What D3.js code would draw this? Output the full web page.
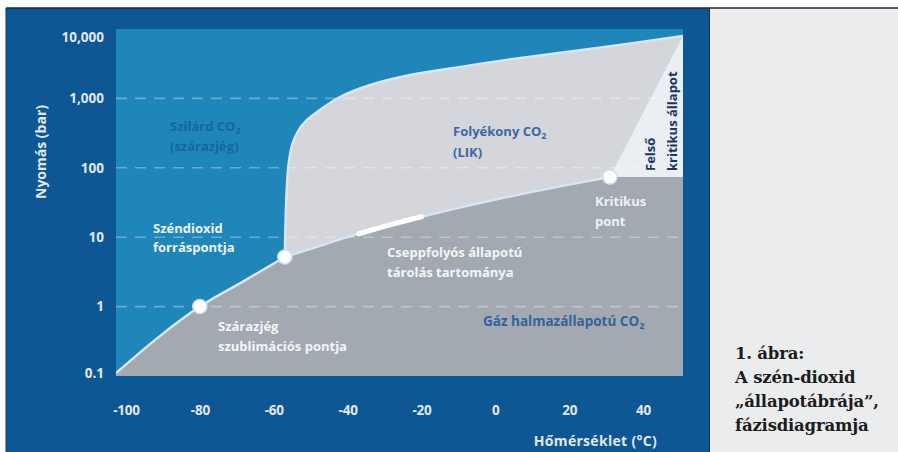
<!DOCTYPE html>
<html>
<head>
<meta charset="utf-8">
<script src="https://cdn.jsdelivr.net/npm/d3@7"></script>
<style>
  html, body { margin: 0; padding: 0; background: #ffffff; }
  svg { display: block; }
</style>
</head>
<body>
<svg id="chart" width="898" height="452"></svg>
<script>
// Axis ticks
const xTicks = [-100, -80, -60, -40, -20, 0, 20, 40];
const yTicks = [0.1, 1, 10, 100, 1000, 10000];
const yTickLabels = ["0.1", "1", "10", "100", "1,000", "10,000"];
const gridValues = [1, 10, 100, 1000];

// Phase boundaries of CO2: temperature (°C) and pressure (bar)
const sublimationT = [-102.7, -91, -80, -68, -57];
const sublimationP = [0.11, 0.37, 1.0, 2.35, 5.2];

const vaporT = [-57, -50, -40, -30, -20, -10, 0, 10, 20, 31];
const vaporP = [5.2, 6.8, 10.0, 14.3, 19.7, 26.5, 34.9, 45.0, 57.3, 73.8];

const meltT = [-57, -56.8, -56.5, -56.0, -55.05, -53.4, -51.0, -47.5, -42.1, -33.9, -23.1, -9.6, 4.8, 27.5, 50.8];
const meltP = [5.2, 17.7, 47.9, 110, 213, 339, 489, 681, 1047, 1560, 2173, 2833, 3700, 5321, 7925];

// Supercritical wedge: critical point, top of the melting curve, right edge at critical pressure
const superT = [31, 50.8, 50.8];
const superP = [73.8, 7925, 73.8];

// Liquid storage range along the boiling curve
const storageT = [-37, -30, -20];
const storageP = [11.2, 14.3, 19.7];

// Marked points: sublimation point, triple point, critical point
const pointT = [-80, -57, 31];
const pointP = [1.0, 5.2, 73.8];

const svg = d3.select("#chart");
const plot = { left: 116, right: 683, top: 29, bottom: 376 };

const x = d3.scaleLinear().domain([-102.7, 50.8]).range([plot.left, plot.right]);
const y = d3.scaleLog().domain([0.1, 10000]).range([plot.bottom, plot.top]);

const zip = (ts, ps) => ts.map((t, i) => [t, ps[i]]);
const sublimation = zip(sublimationT, sublimationP);
const vapor = zip(vaporT, vaporP);
const melt = zip(meltT, meltP);
const wedge = zip(superT, superP);
const storage = zip(storageT, storageP);
const points = zip(pointT, pointP);

const SANS = "'Open Sans', 'Liberation Sans', sans-serif";
const col = {
  navy: "#0c5794",
  solid: "#1f86ba",
  liquid: "#d4d6db",
  gas: "#a3a9b1",
  superc: "#eaeff4",
  curve: "#d3e7f4",
  axisText: "#e2e8f0"
};

// Panels and frame
svg.append("rect").attr("x", 6).attr("y", 8).attr("width", 703).attr("height", 444).attr("fill", col.navy);
svg.append("rect").attr("x", 709).attr("y", 8).attr("width", 189).attr("height", 444).attr("fill", "#ebecee");
svg.append("line").attr("x1", 6).attr("x2", 898).attr("y1", 8).attr("y2", 8).attr("stroke", "#1e2733").attr("stroke-width", 1.5);
svg.append("line").attr("x1", 6).attr("x2", 6).attr("y1", 8).attr("y2", 452).attr("stroke", "#2a3440").attr("stroke-width", 1);
svg.append("line").attr("x1", 709.5).attr("x2", 709.5).attr("y1", 8).attr("y2", 452).attr("stroke", "#1e2b3a").attr("stroke-width", 1);

// Plot area: solid phase fills the background
svg.append("defs").append("clipPath").attr("id", "plotClip")
  .append("rect").attr("x", plot.left).attr("y", plot.top)
  .attr("width", plot.right - plot.left).attr("height", plot.bottom - plot.top);

const g = svg.append("g").attr("clip-path", "url(#plotClip)");
g.append("rect").attr("x", plot.left).attr("y", plot.top)
  .attr("width", plot.right - plot.left).attr("height", plot.bottom - plot.top)
  .attr("fill", col.solid);

const areaBelow = (curve) => d3.area()
  .x(d => x(d[0])).y1(d => y(d[1])).y0(plot.bottom + 2)
  .curve(curve);
const lineWith = (curve) => d3.line()
  .x(d => x(d[0])).y(d => y(d[1]))
  .curve(curve);
const smooth = d3.curveMonotoneX;
const meltCurve = d3.curveCatmullRom.alpha(0.5);
const straight = d3.line().x(d => x(d[0])).y(d => y(d[1]));

// Liquid phase (everything right of / below the melting curve, later covered by gas)
g.append("path").attr("d", areaBelow(meltCurve)(melt)).attr("fill", col.liquid);

// Supercritical wedge
g.append("path").attr("d", straight(wedge) + "Z").attr("fill", col.superc);

// Gas phase
g.append("path").attr("d", areaBelow(smooth)(sublimation)).attr("fill", col.gas).attr("stroke", col.gas).attr("stroke-width", 0.6);
g.append("path").attr("d", areaBelow(smooth)(vapor)).attr("fill", col.gas).attr("stroke", col.gas).attr("stroke-width", 0.6);
g.append("rect")
  .attr("x", x(superT[0])).attr("y", y(superP[0]))
  .attr("width", x(superT[1]) - x(superT[0]) + 2)
  .attr("height", plot.bottom + 2 - y(superP[0]))
  .attr("fill", col.gas);

// Dashed grid lines
g.selectAll("line.grid").data(gridValues).join("line")
  .attr("class", "grid")
  .attr("x1", plot.left).attr("x2", plot.right)
  .attr("y1", d => y(d)).attr("y2", d => y(d))
  .attr("stroke", "#ffffff").attr("stroke-opacity", 0.32)
  .attr("stroke-width", 1.6).attr("stroke-dasharray", "11,8");

// Phase boundary curves
g.append("path").attr("d", lineWith(smooth)(sublimation))
  .attr("fill", "none").attr("stroke", col.curve).attr("stroke-width", 2.4).attr("stroke-linecap", "round");
g.append("path").attr("d", lineWith(smooth)(vapor))
  .attr("fill", "none").attr("stroke", col.curve).attr("stroke-width", 2.4).attr("stroke-linecap", "round");
g.append("path").attr("d", lineWith(meltCurve)(melt))
  .attr("fill", "none").attr("stroke", col.curve).attr("stroke-width", 2.4).attr("stroke-linecap", "round");

// Storage range highlight
g.append("path").attr("d", lineWith(smooth)(storage))
  .attr("fill", "none").attr("stroke", "#ffffff")
  .attr("stroke-width", 5).attr("stroke-linecap", "round");

// Marked points
svg.selectAll("circle.pt").data(points).join("circle")
  .attr("class", "pt")
  .attr("cx", d => x(d[0])).attr("cy", d => y(d[1]))
  .attr("r", 7).attr("fill", "#ffffff")
  .attr("stroke", "#cfe4f3").attr("stroke-width", 1.5);

// X axis
const xAxis = svg.append("g")
  .attr("transform", `translate(0,${plot.bottom})`)
  .call(d3.axisBottom(x).tickValues(xTicks).tickSize(0).tickFormat(d => String(d)));
xAxis.select(".domain").remove();
xAxis.selectAll("text")
  .attr("y", 39).attr("dy", 0)
  .attr("fill", col.axisText)
  .style("font-family", SANS).style("font-size", "13.5px").style("font-weight", 700)
  .style("letter-spacing", "-0.2px");

// Y axis
const yAxis = svg.append("g")
  .attr("transform", `translate(104,0)`)
  .call(d3.axisLeft(y).tickValues(yTicks).tickSize(0).tickFormat((d, i) => yTickLabels[i]));
yAxis.select(".domain").remove();
yAxis.selectAll("text")
  .attr("x", 0).attr("dy", "0.35em")
  .attr("fill", col.axisText)
  .style("font-family", SANS).style("font-size", "13.5px").style("font-weight", 700)
  .style("letter-spacing", "0px");
// keep the end labels inside the plot height
yAxis.selectAll(".tick").attr("transform", d => {
  const py = Math.min(Math.max(y(d), plot.top + 8), plot.bottom - 3);
  return `translate(0,${py})`;
});

// Axis titles
svg.append("text")
  .attr("transform", "translate(46,152) rotate(-90)")
  .attr("text-anchor", "middle")
  .attr("fill", col.axisText)
  .style("font-family", SANS).style("font-size", "14px").style("font-weight", 700)
  .style("letter-spacing", "0px")
  .text("Nyomás (bar)");

svg.append("text")
  .attr("x", 657).attr("y", 446)
  .attr("text-anchor", "end")
  .attr("fill", col.axisText)
  .style("font-family", SANS).style("font-size", "14px").style("font-weight", 700)
  .style("letter-spacing", "0.3px")
  .text("Hőmérséklet (°C)");

// Region and point labels; a segment [text, true] is drawn as a subscript
function label(lines, lx, ly, lh, color, size) {
  const t = svg.append("text")
    .attr("fill", color)
    .style("font-family", SANS).style("font-size", size + "px").style("font-weight", 700)
    .style("letter-spacing", "0px");
  lines.forEach((segs, i) => {
    const parts = Array.isArray(segs) ? segs : [[segs, false]];
    parts.forEach((p, j) => {
      const ts = t.append("tspan").text(p[0]);
      if (j === 0) ts.attr("x", lx).attr("y", ly + i * lh);
      if (p[1]) ts.attr("dy", "0.3em").style("font-size", (size * 0.68) + "px");
    });
  });
  return t;
}

label([[["Szilárd CO", false], ["2", true]], "(szárazjég)"], 170, 131, 20, "#16679f", 13);
label([[["Folyékony CO", false], ["2", true]], "(LIK)"], 453, 136, 21, "#3a68a4", 13);
label(["Széndioxid", "forráspontja"], 153, 233, 19, "#edf3f8", 13);
label(["Szárazjég", "szublimációs pontja"], 218, 331, 20, "#f3f5f7", 13);
label(["Cseppfolyós állapotú", "tárolás tartománya"], 387, 257, 20, "#f3f5f7", 13);
label(["Kritikus", "pont"], 595, 206, 20, "#eef1f4", 13);
label([[["Gáz halmazállapotú CO", false], ["2", true]]], 483, 326, 20, "#33639b", 13.5);

// Upper critical state label, written upward along the right edge
svg.append("text")
  .attr("transform", "translate(655,171) rotate(-90)")
  .attr("fill", "#1d3562")
  .style("font-family", SANS).style("font-size", "13px").style("font-weight", 700)
  .text("Felső");
svg.append("text")
  .attr("transform", "translate(677,171) rotate(-90)")
  .attr("fill", "#1d3562")
  .style("font-family", SANS).style("font-size", "13px").style("font-weight", 700)
  .text("kritikus állapot");

// Figure caption
const caption = ["1. ábra:", "A szén-dioxid", "„állapotábrája”,", "fázisdiagramja"];
svg.append("g").selectAll("text").data(caption).join("text")
  .attr("x", 735).attr("y", (d, i) => 359 + i * 24)
  .attr("fill", "#1c1c1c")
  .style("font-family", "'DejaVu Serif', 'Liberation Serif', serif")
  .style("font-size", "16.5px").style("font-weight", 700)
  .style("letter-spacing", "-0.2px")
  .text(d => d);
</script>
</body>
</html>
